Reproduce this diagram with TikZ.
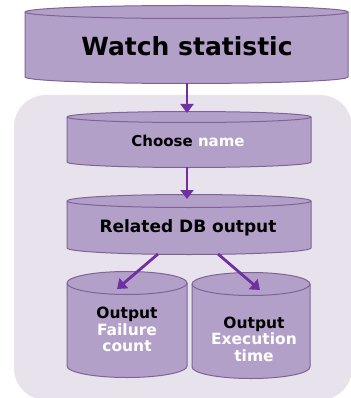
\documentclass[tikz,border=0pt]{standalone}
\usepackage{fontspec}
\setmainfont{DejaVu Sans}
\usetikzlibrary{arrows.meta}
\definecolor{bgc}{HTML}{E7E2EC}
\definecolor{cylf}{HTML}{B3A0C8}
\definecolor{cyld}{HTML}{7E6496}
\definecolor{arrc}{HTML}{7030A0}
\tikzset{
  cylfill/.style={fill=cylf},
  cyledge/.style={draw=cyld,line width=1pt},
  arr/.style={draw=arrc,line width=2.8pt,-{Triangle[length=9pt,width=13pt]}},
  lbl/.style={font=\bfseries\fontsize{15.5}{16.5}\selectfont,align=center,text=black}
}
\newcommand{\mycyl}[5]{%
  \pgfmathsetmacro\cylrx{(#2-#1)/2}%
  \fill[cylfill] (#1,-#3) -- (#1,-#4) arc[start angle=180,end angle=360,x radius=\cylrx pt,y radius=#5pt] -- (#2,-#3) arc[start angle=0,end angle=180,x radius=\cylrx pt,y radius=#5pt] -- cycle;
  \draw[cyledge] (#1,-#3) -- (#1,-#4) arc[start angle=180,end angle=360,x radius=\cylrx pt,y radius=#5pt] -- (#2,-#3) arc[start angle=0,end angle=180,x radius=\cylrx pt,y radius=#5pt];
  \draw[cyledge] (#1,-#3) arc[start angle=180,end angle=360,x radius=\cylrx pt,y radius=#5pt];
}
\begin{document}
\begin{tikzpicture}[x=1pt,y=1pt]
\useasboundingbox (0,0) rectangle (350,-398);
\fill[white] (0,0) rectangle (350,-398);
\fill[bgc,rounded corners=32pt] (14,-95) rectangle (352,-400);
% cylinders
\mycyl{25}{348}{12}{77}{6.5}
\mycyl{67}{311}{117}{162}{5.5}
\mycyl{67}{311}{201}{248}{6.5}
\mycyl{67}{187}{283}{366}{11.5}
\mycyl{192}{310}{284}{367}{11.5}
% texts
\node[lbl,font=\bfseries\fontsize{25}{28}\selectfont] (watch) at (187,-46) {Watch\ statistic};
\node[lbl,font=\bfseries\fontsize{15}{16}\selectfont] (choose) at (188,-141) {Choose \textcolor{white}{name}};
\node[lbl,font=\bfseries\fontsize{17}{18}\selectfont] (related) at (188,-228) {Related DB output};
\node[lbl] (outfail) at (127,-329.5) {Output\\\textcolor{white}{Failure}\\\textcolor{white}{count}};
\node[lbl] (outexec) at (254,-339) {Output\\\textcolor{white}{Execution}\\\textcolor{white}{time}};
% connector endpoints
\coordinate (a1s) at (187,-83);
\coordinate (a1e) at (187,-113);
\coordinate (a2s) at (187,-167);
\coordinate (a2e) at (187,-199);
\coordinate (a3s) at (158,-254);
\coordinate (a3e) at (117,-289);
\coordinate (a4s) at (218,-254);
\coordinate (a4e) at (260,-290);
\draw[arr] (a1s) -- (a1e);
\draw[arr] (a2s) -- (a2e);
\draw[arr] (a3s) -- (a3e);
\draw[arr] (a4s) -- (a4e);
\end{tikzpicture}
\end{document}
